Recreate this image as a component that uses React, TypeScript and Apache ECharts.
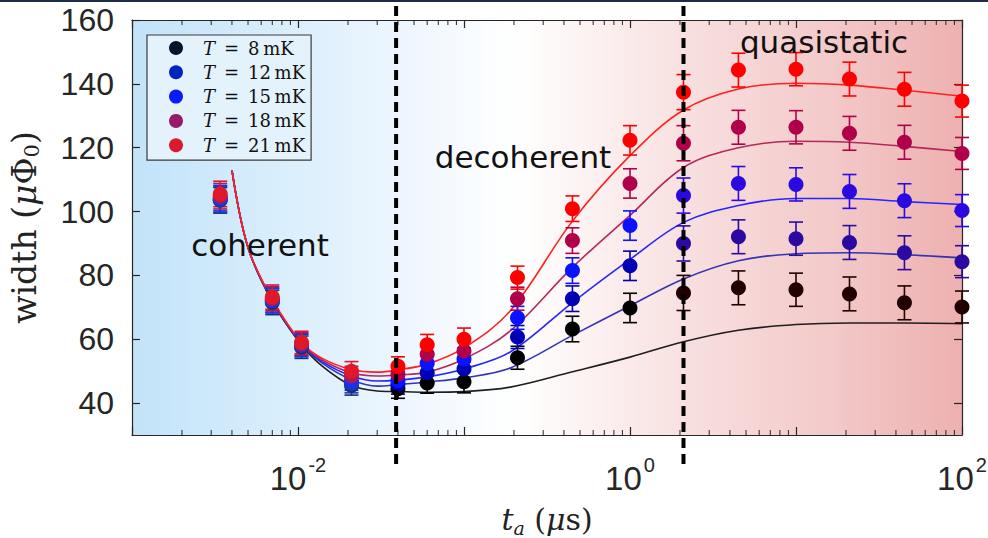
import { useEffect, useRef } from "react";
import * as echarts from "echarts";

// ---------- data ----------
const temperatures = ["T = 8 mK", "T = 12 mK", "T = 15 mK", "T = 18 mK", "T = 21 mK"];
const tA = [0.0034, 0.007, 0.0105, 0.021, 0.04, 0.06, 0.1, 0.21, 0.45, 1.0, 2.1, 4.5, 10, 21, 45, 100];
const width8 = [103.5, 71.5, 57.5, 45.5, 44.5, 46.3, 46.7, 54.2, 63.2, 69.8, 74.5, 76.1, 75.5, 74.2, 71.4, 70.1];
const width12 = [103.8, 72.0, 58.0, 46.2, 45.8, 49.5, 50.7, 60.7, 72.7, 83.0, 90.0, 92.1, 91.5, 90.3, 87.1, 84.3];
const width15 = [104.2, 72.3, 58.3, 47.0, 47.0, 52.5, 53.8, 66.7, 81.5, 95.6, 105.0, 108.8, 108.5, 106.3, 103.4, 100.3];
const width18 = [104.8, 72.7, 58.6, 48.5, 49.0, 55.3, 56.3, 72.7, 90.9, 108.8, 121.4, 126.4, 126.4, 124.5, 121.7, 118.2];
const width21 = [105.5, 73.2, 59.0, 50.0, 51.5, 58.3, 60.0, 79.3, 100.9, 122.3, 137.4, 144.3, 144.6, 141.5, 138.3, 134.6];
const errorBars = [4.0, 3.8, 3.5, 3.0, 3.0, 3.2, 3.5, 3.6, 4.0, 4.6, 5.5, 5.3, 5.2, 5.3, 5.3, 5.0];

const fitT = [0.004, 0.005, 0.007, 0.0105, 0.014, 0.021, 0.03, 0.04, 0.06, 0.1, 0.19, 0.45, 1, 2.1, 4.5, 10, 21, 45, 100];
const fit8 = [112.9, 88.7, 71.8, 58.2, 51.6, 45.5, 43.8, 43.6, 43.4, 43.6, 45.0, 49.8, 54.4, 59.2, 62.8, 64.6, 65.1, 65.1, 64.9];
const fit12 = [112.9, 88.7, 72.0, 58.4, 52.5, 47.3, 45.3, 45.8, 46.6, 47.9, 51.0, 61.2, 70.5, 78.9, 84.6, 86.8, 87.1, 86.5, 85.5];
const fit15 = [112.9, 88.7, 72.1, 58.6, 53.0, 48.5, 46.9, 47.2, 48.2, 50.7, 56.0, 71.5, 85.0, 96.6, 101.9, 104.1, 104.1, 103.1, 102.2];
const fit18 = [112.9, 88.7, 72.3, 58.8, 53.5, 49.5, 48.5, 48.8, 49.7, 53.8, 62.6, 82.5, 98.8, 113.8, 120.0, 122.0, 121.7, 120.4, 118.8];
const fit21 = [112.9, 88.7, 72.5, 59.0, 54.0, 50.5, 49.7, 50.4, 52.2, 57.3, 68.9, 97.0, 117.5, 131.8, 138.4, 140.2, 139.6, 138.0, 136.1];

const yTicks = [40, 60, 80, 100, 120, 140, 160];
const regimeBoundaries = [0.039, 2.1];
const regimeLabels = ["coherent", "decoherent", "quasistatic"];

// ---------- styles ----------
const widths = [width8, width12, width15, width18, width21];
const fits = [fit8, fit12, fit15, fit18, fit21];
const legendColors = ["#061626", "#0022c0", "#0a1aff", "#9a1a6a", "#dd1a2a"];
const fitColors = ["#1e1e1e", "#3434b4", "#2424ff", "#b4285c", "#ff2020"];
const markerPalettes = [
  ["#15306e", "#000000", "#200000"],
  ["#1b3ac0", "#0000b4", "#2a0aa0"],
  ["#1a30f0", "#0a12ff", "#2a0ae0"],
  ["#a31a5e", "#b0004a", "#b0004a"],
  ["#e0182a", "#ff0000", "#ff0000"],
];
const phase = (i: number) => (i < 4 ? 0 : i < 10 ? 1 : 2);
const markerColor = (s: number, i: number) => markerPalettes[s][phase(i)];

const SANS = "Liberation Sans";
const SERIF = "DejaVu Serif";

const minorTickValues: number[] = [];
for (let d = -3; d < 2; d++) {
  for (let k = 2; k <= 9; k++) minorTickValues.push(k * Math.pow(10, d));
}

export default function App() {
  const ref = useRef<HTMLDivElement>(null);

  useEffect(() => {
    if (!ref.current) return;
    const chart = echarts.init(ref.current, undefined, { renderer: "svg" });

    const series: any[] = [];

    // minor log ticks (bottom & top)
    series.push({
      type: "custom",
      name: "minorTicks",
      silent: true,
      z: 1,
      data: minorTickValues.map((v) => [v]),
      renderItem: (params: any, api: any) => {
        const v = api.value(0);
        const b = api.coord([v, 30]);
        const t = api.coord([v, 160]);
        const style = { stroke: "#262626", lineWidth: 1 };
        return {
          type: "group",
          children: [
            { type: "line", shape: { x1: b[0], y1: b[1], x2: b[0], y2: b[1] - 5 }, style },
            { type: "line", shape: { x1: t[0], y1: t[1], x2: t[0], y2: t[1] + 5 }, style },
          ],
        };
      },
    });

    fits.forEach((f, s) => {
      series.push({
        type: "line",
        name: "fit " + temperatures[s],
        data: fitT.map((x, i) => [x, f[i]]),
        smooth: 0.35,
        showSymbol: false,
        symbol: "none",
        lineStyle: { color: fitColors[s], width: 1.6 },
        z: 2,
        silent: true,
      });
    });

    widths.forEach((w, s) => {
      series.push({
        type: "custom",
        name: temperatures[s],
        z: 3,
        silent: true,
        data: tA.map((x, i) => [x, w[i], errorBars[i]]),
        renderItem: (params: any, api: any) => {
          const x = api.value(0);
          const y = api.value(1);
          const e = api.value(2);
          const top = api.coord([x, y + e]);
          const bot = api.coord([x, y - e]);
          const cap = 7;
          const style = { stroke: markerColor(s, params.dataIndex), lineWidth: 1.6 };
          return {
            type: "group",
            children: [
              { type: "line", shape: { x1: top[0], y1: top[1], x2: bot[0], y2: bot[1] }, style },
              { type: "line", shape: { x1: top[0] - cap, y1: top[1], x2: top[0] + cap, y2: top[1] }, style },
              { type: "line", shape: { x1: bot[0] - cap, y1: bot[1], x2: bot[0] + cap, y2: bot[1] }, style },
            ],
          };
        },
      });
      series.push({
        type: "scatter",
        name: temperatures[s],
        z: 3,
        data: tA.map((x, i) => [x, w[i]]),
        symbol: "circle",
        symbolSize: 15,
        itemStyle: { color: (p: any) => markerColor(s, p.dataIndex), opacity: 1 },
      });
    });

    const axisLineStyle = { color: "#262626", width: 1.2 };

    const option: any = {
      animation: false,
      backgroundColor: "#ffffff",
      grid: {
        left: 132,
        right: 26,
        top: 20,
        bottom: 103,
        show: true,
        borderWidth: 0,
        containLabel: false,
        outerBoundsMode: "none",
        backgroundColor: new echarts.graphic.LinearGradient(0, 0, 1, 0, [
          { offset: 0, color: "#c2e3f9" },
          { offset: 0.18, color: "#d9eefc" },
          { offset: 0.36, color: "#f2f8fe" },
          { offset: 0.46, color: "#ffffff" },
          { offset: 0.56, color: "#fcf0f0" },
          { offset: 0.68, color: "#f8dede" },
          { offset: 0.85, color: "#f3c8c8" },
          { offset: 1, color: "#eeb0b0" },
        ]),
      },
      legend: {
        data: temperatures.map((name, i) => ({ name, icon: "circle", itemStyle: { color: legendColors[i] } })),
        orient: "vertical",
        left: 147,
        top: 35,
        itemWidth: 14,
        itemHeight: 14,
        itemGap: 6.3,
        padding: [4, 6, 6, 22],
        backgroundColor: "#e4f2fc",
        borderColor: "#3a3a3a",
        borderWidth: 1.2,
        selectedMode: false,
        z: 10,
        formatter: (name: string) =>
          `{it|T}{n|\u2002=\u2002${name.slice(4).replace(" ", "\u2009")}}`,
        textStyle: {
          padding: [0, 0, 0, 15],
          rich: {
            it: { fontFamily: SERIF, fontStyle: "italic", fontSize: 18, color: "#111", lineHeight: 19 },
            n: { fontFamily: SERIF, fontSize: 18, color: "#111", lineHeight: 19 },
          },
        },
      },
      xAxis: [
        {
          type: "log",
          logBase: 10,
          min: 0.001,
          max: 100,
          position: "bottom",
          axisLine: { show: true, lineStyle: axisLineStyle },
          axisTick: { show: true, inside: true, length: 8, lineStyle: { color: "#262626", width: 1.2 } },
          splitLine: { show: false },
          axisLabel: {
            margin: 20,
            interval: 0,
            formatter: (v: number) => {
              const e = Math.round(Math.log10(v));
              return e % 2 === 0 ? `{b|10}{s|${e}}` : "";
            },
            rich: {
              b: { fontFamily: SANS, fontSize: 33, color: "#262626", verticalAlign: "bottom", lineHeight: 40 },
              s: { fontFamily: SANS, fontSize: 20, color: "#262626", verticalAlign: "top", lineHeight: 40, padding: [0, 0, 0, 2] },
            },
          },
          name: "{it|t}{sub|a}{n| (}{it|μ}{n|s)}",
          nameLocation: "middle",
          nameGap: 66,
          nameTextStyle: {
            rich: {
              it: { fontFamily: SERIF, fontStyle: "italic", fontSize: 30, color: "#222", lineHeight: 36, verticalAlign: "middle" },
              n: { fontFamily: SERIF, fontSize: 30, color: "#222", lineHeight: 36, verticalAlign: "middle" },
              sub: { fontFamily: SERIF, fontStyle: "italic", fontSize: 19, color: "#222", lineHeight: 36, verticalAlign: "bottom" },
            },
          },
        },
        {
          type: "log",
          logBase: 10,
          min: 0.001,
          max: 100,
          position: "top",
          axisLine: { show: true, lineStyle: axisLineStyle },
          axisTick: { show: true, inside: true, length: 8, lineStyle: { color: "#262626", width: 1.2 } },
          axisLabel: { show: false },
          splitLine: { show: false },
        },
      ],
      yAxis: [
        {
          type: "value",
          min: 30,
          max: 160,
          axisLine: { show: true, lineStyle: axisLineStyle },
          axisTick: { show: true, inside: true, length: 8, customValues: yTicks, lineStyle: { color: "#262626", width: 1.2 } },
          splitLine: { show: false },
          axisLabel: {
            customValues: yTicks,
            margin: 18,
            fontFamily: SANS,
            fontSize: 32,
            color: "#262626",
          },
          name: "{n|width (}{it|μ}{n|Φ}{sub|0}{n|)}",
          nameLocation: "middle",
          nameGap: 90,
          nameTextStyle: {
            rich: {
              it: { fontFamily: SERIF, fontStyle: "italic", fontSize: 33, color: "#222", lineHeight: 36, verticalAlign: "middle" },
              n: { fontFamily: SERIF, fontSize: 33, color: "#222", lineHeight: 36, verticalAlign: "middle" },
              sub: { fontFamily: SERIF, fontSize: 21, color: "#222", lineHeight: 36, verticalAlign: "bottom" },
            },
          },
        },
        {
          type: "value",
          min: 30,
          max: 160,
          position: "right",
          axisLine: { show: true, lineStyle: axisLineStyle },
          axisTick: { show: true, inside: true, length: 8, customValues: yTicks, lineStyle: { color: "#262626", width: 1.2 } },
          axisLabel: { show: false },
          splitLine: { show: false },
        },
      ],
      series,
    };

    chart.setOption(option);

    const bx = regimeBoundaries.map((b) => chart.convertToPixel({ xAxisIndex: 0 }, b) as number);
    const labelFont = { fontFamily: "DejaVu Sans", fontSize: 31, fill: "#111" };
    chart.setOption({
      graphic: [
        { id: "topbar", type: "rect", left: 0, top: 0, shape: { width: 988, height: 2 }, style: { fill: "#1c2c44" }, z: 100 },
        ...bx.map((x, i) => ({
          id: "bound" + i,
          type: "line",
          z: 100,
          silent: true,
          shape: { x1: x, y1: 6, x2: x, y2: 467 },
          style: { stroke: "#000", lineWidth: 4, lineDash: [10, 6] },
        })),
        { id: "lab0", type: "text", z: 100, x: 260, y: 245, style: { text: regimeLabels[0], ...labelFont, align: "center", verticalAlign: "middle" } },
        { id: "lab1", type: "text", z: 100, x: 523, y: 157, style: { text: regimeLabels[1], ...labelFont, align: "center", verticalAlign: "middle" } },
        { id: "lab2", type: "text", z: 100, x: 824, y: 42, style: { text: regimeLabels[2], ...labelFont, align: "center", verticalAlign: "middle" } },
      ],
    });

    return () => chart.dispose();
  }, []);

  return <div ref={ref} style={{ position: "fixed", left: 0, top: 0, width: 988, height: 538 }} />;
}
